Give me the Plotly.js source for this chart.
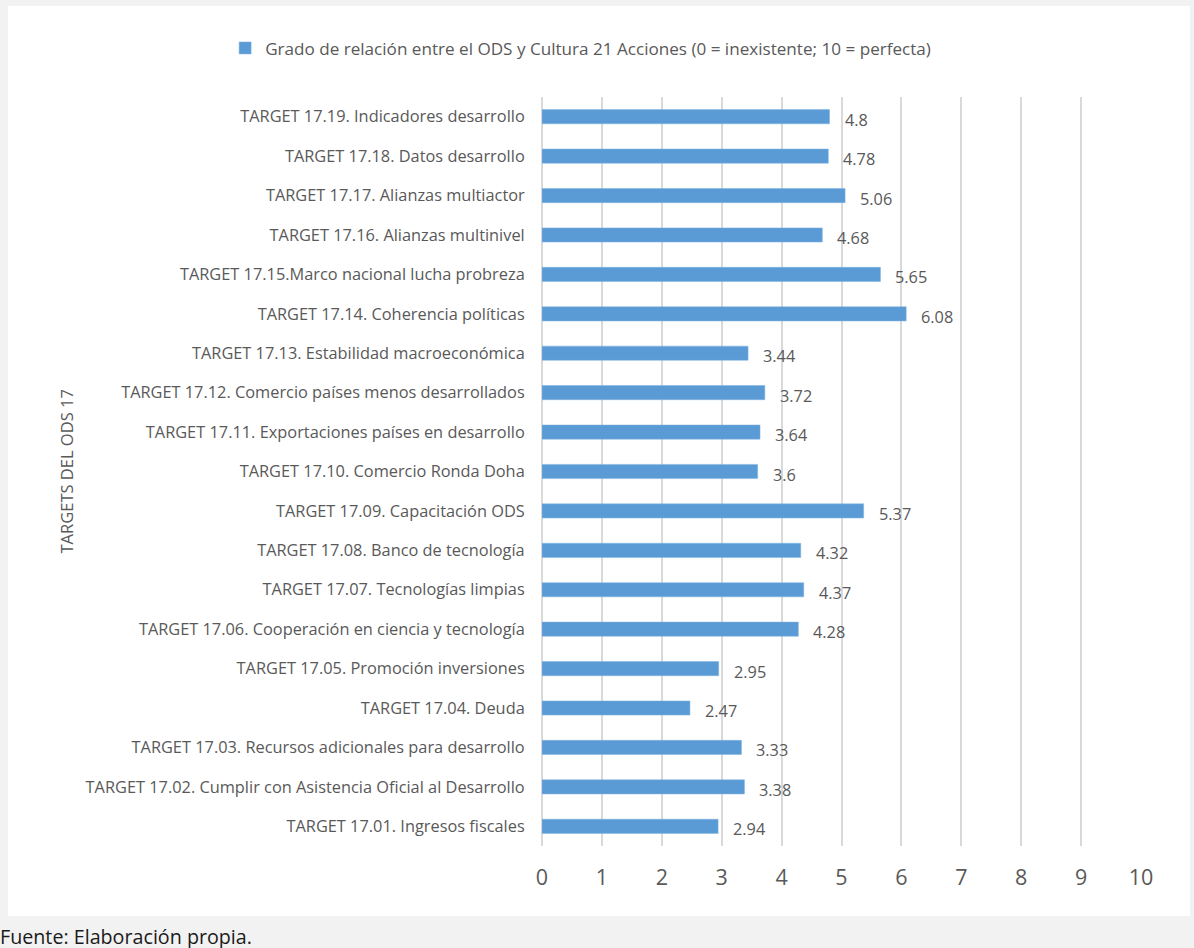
<!DOCTYPE html>
<html>
<head>
<meta charset="utf-8">
<script src="https://cdn.plot.ly/plotly-3.0.1.min.js"></script>
<style>
  html, body { margin:0; padding:0; width:1194px; height:948px; overflow:hidden; background:#f2f2f2; }
  #chart { position:absolute; left:8px; top:6px; width:1182px; height:910px; background:#fff; }
  #src { position:absolute; left:0px; top:923px; font-family:"Open Sans", sans-serif; font-size:19.7px; color:#1a1a1a; white-space:nowrap; }
</style>
</head>
<body>
<div id="chart"></div>
<div id="src">Fuente: Elaboración propia.</div>
<script>
const categories = [
  "TARGET 17.01. Ingresos fiscales",
  "TARGET 17.02. Cumplir con Asistencia Oficial al Desarrollo",
  "TARGET 17.03. Recursos adicionales para desarrollo",
  "TARGET 17.04. Deuda",
  "TARGET 17.05. Promoción inversiones",
  "TARGET 17.06. Cooperación en ciencia y tecnología",
  "TARGET 17.07. Tecnologías limpias",
  "TARGET 17.08. Banco de tecnología",
  "TARGET 17.09. Capacitación ODS",
  "TARGET 17.10. Comercio Ronda Doha",
  "TARGET 17.11. Exportaciones países en desarrollo",
  "TARGET 17.12. Comercio países menos desarrollados",
  "TARGET 17.13. Estabilidad macroeconómica",
  "TARGET 17.14. Coherencia políticas",
  "TARGET 17.15.Marco nacional lucha probreza",
  "TARGET 17.16. Alianzas multinivel",
  "TARGET 17.17. Alianzas multiactor",
  "TARGET 17.18. Datos desarrollo",
  "TARGET 17.19. Indicadores desarrollo"
];
const values = [2.94, 3.38, 3.33, 2.47, 2.95, 4.28, 4.37, 4.32, 5.37, 3.6, 3.64, 3.72, 3.44, 6.08, 5.65, 4.68, 5.06, 4.78, 4.8];
const seriesName = "Grado de relación entre el ODS y Cultura 21 Acciones (0 = inexistente; 10 = perfecta)";
const xTicks = [0,1,2,3,4,5,6,7,8,9,10];
const yTitle = "TARGETS DEL ODS 17";

const FONT = '"Open Sans", sans-serif';
const TXT = '#595959';

const trace = {
  type: 'bar',
  orientation: 'h',
  x: values,
  y: categories,
  name: seriesName,
  width: 0.36,
  marker: { color: '#5b9bd5', line: { color: '#7fb2e0', width: 0.5 } },
  showlegend: true
};

const annotations = values.map((v, i) => ({
  x: v, y: categories[i], xref: 'x', yref: 'y',
  text: String(v), showarrow: false,
  xanchor: 'left', yanchor: 'middle',
  xshift: 13, yshift: -3,
  font: { family: FONT, size: 16.3, color: TXT }
}));
annotations.push({
  xref: 'paper', yref: 'paper', x: -0.793, y: 0.5,
  text: yTitle, showarrow: false, textangle: -90,
  xanchor: 'center', yanchor: 'middle',
  font: { family: FONT, size: 16.5, color: TXT }
});

const layout = {
  width: 1182, height: 910,
  margin: { l: 534, r: 49, t: 91, b: 70, autoexpand: false },
  paper_bgcolor: '#ffffff',
  plot_bgcolor: '#ffffff',
  font: { family: FONT, color: TXT },
  showlegend: true,
  legend: {
    orientation: 'h', x: -0.529, xanchor: 'left', y: 1.065, yanchor: 'middle',
    font: { family: FONT, size: 17.1, color: TXT },
    bgcolor: 'rgba(0,0,0,0)'
  },
  xaxis: {
    range: [0, 10],
    tickvals: xTicks,
    ticktext: xTicks.map(String),
    showgrid: true, gridcolor: '#d9d9d9', gridwidth: 1.5,
    zeroline: true, zerolinecolor: '#d9d9d9', zerolinewidth: 1.5,
    showline: false,
    ticks: 'outside', ticklen: 12, tickcolor: 'rgba(0,0,0,0)',
    tickfont: { family: FONT, size: 21.5, color: TXT },
    automargin: false,
    fixedrange: true
  },
  yaxis: {
    type: 'category',
    categoryorder: 'array', categoryarray: categories,
    showgrid: false, zeroline: false, showline: false,
    ticks: 'outside', ticklen: 13, tickcolor: 'rgba(0,0,0,0)',
    tickfont: { family: FONT, size: 16.35, color: TXT },
    automargin: false,
    fixedrange: true
  },
  bargap: 0.64,
  annotations: annotations
};

Plotly.newPlot('chart', [trace], layout, { displayModeBar: false });
</script>
</body>
</html>
